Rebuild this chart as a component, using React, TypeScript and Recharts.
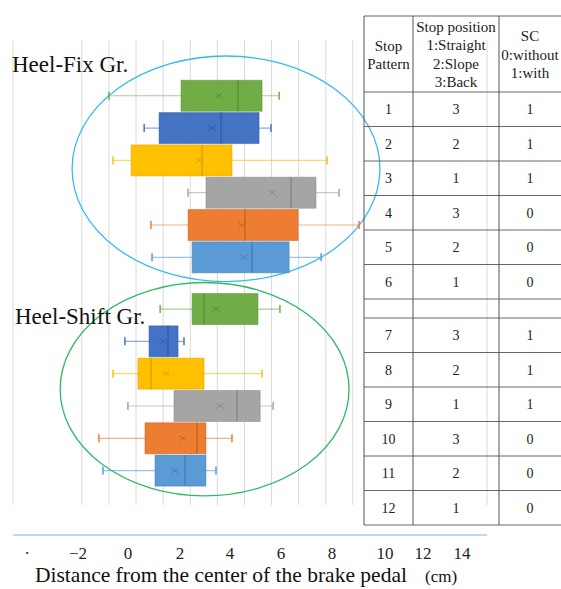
import React from 'react';
import { ComposedChart, Bar, XAxis, YAxis, CartesianGrid, ReferenceArea } from 'recharts';

// ---- data ----
const stopPattern = ['1', '2', '3', '4', '5', '6', '7', '8', '9', '10', '11', '12'];
const stopPosition = ['3', '2', '1', '3', '2', '1', '3', '2', '1', '3', '2', '1'];
const scFlag = ['1', '1', '1', '0', '0', '0', '1', '1', '1', '0', '0', '0'];
const rowPos = [1, 2, 3, 4, 5, 6, 7.6, 8.6, 9.6, 10.6, 11.6, 12.6];
const whiskerLow = [-1.0, 0.3, -0.85, 1.92, 0.55, 0.59, 0.89, -0.41, -0.85, -0.3, -1.37, -1.22];
const quart1 = [1.66, 0.85, -0.18, 2.58, 1.92, 2.07, 2.07, 0.48, 0.07, 1.4, 0.33, 0.7];
const medians = [3.76, 3.14, 2.44, 5.72, 4.02, 4.28, 2.51, 1.18, 0.55, 3.73, 2.25, 1.81];
const means = [3.06, 2.8, 2.32, 5.02, 3.91, 3.99, 2.95, 1.0, 1.11, 3.1, 1.73, 1.44];
const quart3 = [4.65, 4.54, 3.54, 6.64, 5.98, 5.65, 4.5, 1.55, 2.51, 4.58, 2.58, 2.58];
const whiskerHigh = [5.28, 4.98, 7.05, 7.49, 8.23, 6.83, 5.31, 1.77, 4.65, 5.06, 3.54, 2.95];

const gridTicks = [-2, -1, 0, 1, 2, 3, 4, 5, 6, 7, 8];
const xTickLabels = ['·', '−2', '0', '2', '4', '6', '8', '10', '12', '14'];
const xTickAt = [-4.02, -2.14, -0.3, 1.62, 3.47, 5.35, 7.23, 9.19, 10.59, 12.03];

const groupNames = ['Heel-Fix Gr.', 'Heel-Shift Gr.'];
const ellipseX1 = [-2.36, -2.8];
const ellipseX2 = [9.0, 7.86];
const ellipseY1 = [-0.22, 6.79];
const ellipseY2 = [6.76, 13.39];

const headerCol1 = ['Stop', 'Pattern'];
const headerCol2 = ['Stop position', '1:Straight', '2:Slope', '3:Back'];
const headerCol3 = ['SC', '0:without', '1:with'];
const xTitle = 'Distance from the center of the brake pedal';
const xUnit = '(cm)';

// ---- styles ----
const boxFill = ['#70AD47', '#4472C4', '#FFC000', '#A5A5A5', '#ED7D31', '#5B9BD5'];
const boxDark = ['#5B9238', '#355DA6', '#D9A300', '#888888', '#C8651F', '#457FB8'];
const ellipseColor = ['#33BBEE', '#2DBA66'];
const FONT = '"Liberation Serif", "Times New Roman", serif';

const data = stopPattern.map((p, i) => ({
  pattern: p,
  pos: rowPos[i],
  range: [whiskerLow[i], whiskerHigh[i]],
  q1: quart1[i],
  q3: quart3[i],
  median: medians[i],
  mean: means[i],
}));

const BoxShape = (props: any) => {
  const { x, y, width, height, payload, index } = props;
  if (!payload) return null;
  const lo = payload.range[0];
  const hi = payload.range[1];
  const px = (v: number) => x + (width * (v - lo)) / (hi - lo);
  const c = boxFill[index % 6];
  const d = boxDark[index % 6];
  const cy = y + height / 2;
  const bx1 = px(payload.q1);
  const bx2 = px(payload.q3);
  const mx = px(payload.median);
  const ax = px(payload.mean);
  return (
    <g>
      <line x1={x} x2={x + width} y1={cy} y2={cy} stroke={c} strokeOpacity={0.6} strokeWidth={1.2} />
      <line x1={x} x2={x} y1={cy - 4} y2={cy + 4} stroke={c} strokeWidth={1.5} />
      <line x1={x + width} x2={x + width} y1={cy - 4} y2={cy + 4} stroke={c} strokeWidth={1.5} />
      <rect x={bx1} y={y} width={bx2 - bx1} height={height} fill={c} stroke={d} strokeOpacity={0.5} strokeWidth={1} />
      <line x1={mx} x2={mx} y1={y} y2={y + height} stroke={d} strokeWidth={1.5} />
      <line x1={ax - 3.5} x2={ax + 3.5} y1={cy - 2.5} y2={cy + 2.5} stroke={d} strokeWidth={1} />
      <line x1={ax - 3.5} x2={ax + 3.5} y1={cy + 2.5} y2={cy - 2.5} stroke={d} strokeWidth={1} />
    </g>
  );
};

const EllipseShape = (color: string) => (props: any) => {
  const { x, y, width, height } = props;
  return (
    <ellipse
      cx={x + width / 2}
      cy={y + height / 2}
      rx={Math.abs(width) / 2}
      ry={Math.abs(height) / 2}
      fill="none"
      stroke={color}
      strokeWidth={1.3}
    />
  );
};

const TableOverlay = () => {
  const colX = [364, 413, 499, 561];
  const colC = [388.5, 456, 530];
  const top = 16;
  const headBottom = 92;
  const rowH = 34.5;
  const blankTop = headBottom + rowH * 6;
  const group2Top = blankTop + 19;
  const rowCenter = (i: number) => (i < 6 ? headBottom + rowH * (i + 0.5) : group2Top + rowH * (i - 6 + 0.5));
  const hLines: number[] = [top, headBottom];
  for (let i = 1; i <= 6; i++) hLines.push(headBottom + rowH * i);
  for (let i = 0; i <= 6; i++) hLines.push(group2Top + rowH * i);
  const bottom = group2Top + rowH * 6;
  return (
    <g fontFamily={FONT} fill="#222" textAnchor="middle">
      {hLines.map((yy, i) => (
        <line key={'h' + i} x1={colX[0]} x2={colX[3]} y1={yy} y2={yy} stroke="#666" strokeWidth={1} />
      ))}
      {colX.slice(0, 3).map((xx, i) => (
        <line key={'v' + i} x1={xx} x2={xx} y1={top} y2={bottom} stroke="#555" strokeWidth={1} />
      ))}
      {headerCol1.map((t, i) => (
        <text key={'a' + i} x={colC[0]} y={51 + i * 18} fontSize={15}>{t}</text>
      ))}
      {headerCol2.map((t, i) => (
        <text key={'b' + i} x={colC[1]} y={32 + i * 18.3} fontSize={15}>{t}</text>
      ))}
      {headerCol3.map((t, i) => (
        <text key={'c' + i} x={colC[2]} y={41 + i * 18.5} fontSize={15}>{t}</text>
      ))}
      {stopPattern.map((p, i) => (
        <g key={'r' + i} fontSize={14}>
          <text x={colC[0]} y={rowCenter(i) + 5}>{p}</text>
          <text x={colC[1]} y={rowCenter(i) + 5}>{stopPosition[i]}</text>
          <text x={colC[2]} y={rowCenter(i) + 5}>{scFlag[i]}</text>
        </g>
      ))}
    </g>
  );
};

export default function App() {
  return (
    <div style={{ position: 'absolute', left: 0, top: 0, width: 561, height: 589, overflow: 'hidden', background: '#fff' }}>
      <ComposedChart
        width={561}
        height={589}
        layout="vertical"
        data={data}
        margin={{ top: 40, right: 74, bottom: 54, left: 13 }}
      >
        <CartesianGrid horizontal={false} vertical={true} stroke="#D9D9D9" strokeWidth={1} />
        <XAxis
          xAxisId={0}
          type="number"
          domain={[-4.54, 12.95]}
          allowDataOverflow
          ticks={gridTicks}
          hide
        />
        <XAxis
          xAxisId="lbl"
          type="number"
          domain={[-4.54, 12.95]}
          allowDataOverflow
          ticks={xTickAt}
          interval={0}
          tickFormatter={(v: number, i: number) => xTickLabels[i] ?? ''}
          tickLine={false}
          axisLine={{ stroke: '#8FAADC', strokeWidth: 1 }}
          tick={{ fontSize: 17, fill: '#222', fontFamily: FONT }}
          tickMargin={6}
          height={30}
        />
        <YAxis
          type="number"
          dataKey="pos"
          domain={[-0.715, 13.675]}
          allowDataOverflow
          ticks={rowPos}
          hide
        />
        {groupNames.map((g, i) => (
          <ReferenceArea
            key={g}
            x1={ellipseX1[i]}
            x2={ellipseX2[i]}
            y1={ellipseY1[i]}
            y2={ellipseY2[i]}
            ifOverflow="visible"
            shape={EllipseShape(ellipseColor[i])}
          />
        ))}
        <Bar dataKey="range" barSize={31} shape={BoxShape} isAnimationActive={false} />
      </ComposedChart>
      <svg
        width={561}
        height={589}
        style={{ position: 'absolute', left: 0, top: 0, pointerEvents: 'none' }}
      >
        <text x={12} y={72} fontSize={23} fontFamily={FONT} fill="#111">{groupNames[0]}</text>
        <text x={15} y={324} fontSize={23} fontFamily={FONT} fill="#111">{groupNames[1]}</text>
        <text x={35} y={582} fontSize={21.5} fontFamily={FONT} fill="#111">{xTitle}</text>
        <text x={425} y={582} fontSize={17} fontFamily={FONT} fill="#111">{xUnit}</text>
        <TableOverlay />
      </svg>
    </div>
  );
}
